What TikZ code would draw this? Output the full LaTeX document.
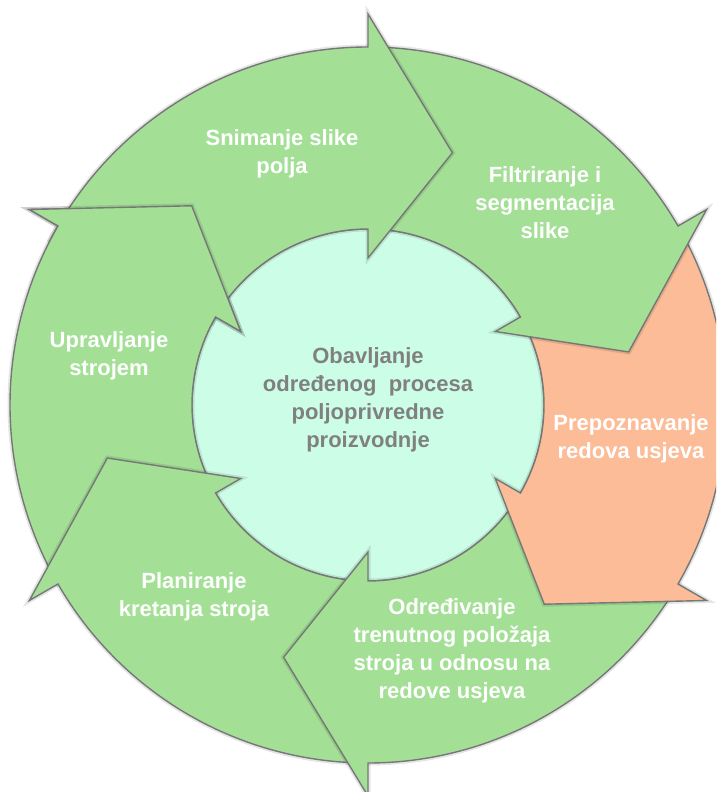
\documentclass[tikz,border=0pt]{standalone}
\usepackage{fontspec}
\setmainfont{Liberation Sans}
\definecolor{agreen}{HTML}{A3E096}
\definecolor{aorange}{HTML}{FBBC97}
\definecolor{acyan}{HTML}{CCFEE7}
\definecolor{linegray}{HTML}{777777}
\definecolor{textgray}{HTML}{808080}
\newcommand{\ringarrow}[2]{%
  \pgfmathsetmacro{\rgTail}{#1+60}%
  \pgfmathsetmacro{\rgTip}{#1-18.5}%
  \draw[arrowshape, fill=#2] (\rgTail:358pt) arc[start angle=\rgTail, end angle=#1, radius=358pt]
    -- (#1:391pt) -- (\rgTip:266pt) -- (#1:147pt) -- (#1:176pt)
    arc[start angle=#1, end angle=\rgTail, radius=176pt] -- cycle;
}
\begin{document}
\begin{tikzpicture}[x=1pt,y=1pt,
  arrowshape/.style={draw=linegray, line width=1.4pt, line join=miter,
    preaction={draw=black, fill=none, draw opacity=0.10, line width=5pt}},
  steptext/.style={text=white, font=\fontsize{22}{28}\selectfont\bfseries, align=center, inner sep=0pt},
  centertext/.style={text=textgray, font=\fontsize{22}{28}\selectfont\bfseries, align=center, inner sep=0pt}]
\path[use as bounding box] (0,0) rectangle (716,792);
\clip (0,0) rectangle (716,792);
\begin{scope}[shift={(368,387)}]
  \draw[arrowshape, fill=acyan] (0,0) circle[radius=176pt];
  \ringarrow{-210}{agreen}
  \ringarrow{-150}{agreen}
  \ringarrow{-90}{agreen}
  \ringarrow{-30}{aorange}
  \ringarrow{30}{agreen}
  \ringarrow{90}{agreen}
  \begin{scope}
    \clip (0,0) -- (153:460pt) arc[start angle=153, end angle=118, radius=460pt] -- cycle;
    \ringarrow{-210}{agreen}
  \end{scope}
\end{scope}
\node[steptext] (snimanje) at (282,638) {Snimanje slike\\polja};
\node[steptext] (filtriranje) at (545,589) {Filtriranje i\\segmentacija\\slike};
\node[steptext] (prepoznavanje) at (631,353) {Prepoznavanje\\redova usjeva};
\node[steptext] (odredivanje) at (452,141) {Određivanje\\trenutnog položaja\\stroja u odnosu na\\redove usjeva};
\node[steptext] (planiranje) at (194,195) {Planiranje\\kretanja stroja};
\node[steptext] (upravljanje) at (109,436) {Upravljanje\\strojem};
\node[centertext] (centar) at (368,392) {Obavljanje\\određenog\ \ procesa\\poljoprivredne\\proizvodnje};
\end{tikzpicture}
\end{document}
